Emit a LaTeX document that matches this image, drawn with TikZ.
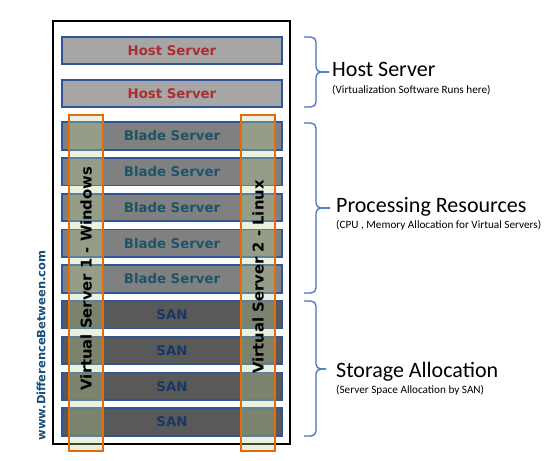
\documentclass[tikz,border=0pt]{standalone}
\usepackage{fontspec}
\setmainfont{Carlito}
\newfontfamily\boxfont{DejaVu Sans}
\usepackage{tikz}
\usetikzlibrary{positioning, calc}
\definecolor{hostfill}{RGB}{166,166,166}
\definecolor{bladefill}{RGB}{128,128,128}
\definecolor{sanfill}{RGB}{89,89,89}
\definecolor{boxedge}{RGB}{47,85,151}
\definecolor{hosttext}{RGB}{175,45,45}
\definecolor{bladetext}{RGB}{28,84,104}
\definecolor{santext}{RGB}{25,55,100}
\definecolor{vmedge}{RGB}{228,108,10}
\definecolor{vmfill}{RGB}{194,214,155}
\definecolor{bracecol}{RGB}{68,114,196}
\definecolor{urltext}{RGB}{25,80,120}

\begin{document}
\begin{tikzpicture}[x=1pt, y=-1pt,
                unit/.style={draw=boxedge, line width=1.8pt, rectangle, minimum width=220pt, minimum height=27.5pt, inner sep=0pt, outer sep=0pt, font=\boxfont\bfseries\fontsize{13.3}{15}\selectfont},
                hostbox/.style={unit, fill=hostfill, text=hosttext},
                bladebox/.style={unit, fill=bladefill, text=bladetext},
                sanbox/.style={unit, fill=sanfill, text=santext},
                vmbox/.style={draw=vmedge, line width=2pt, fill=vmfill, fill opacity=0.33, rectangle, minimum width=34pt, minimum height=336pt, inner sep=0pt},
                vmlabel/.style={rotate=90, inner sep=0pt, font=\boxfont\bfseries\fontsize{14.8}{16}\selectfont},
                bracepath/.style={draw=bracecol, line width=1.3pt, rounded corners=5pt},
                biglabel/.style={anchor=base west, inner sep=0pt, font=\fontsize{22}{25}\selectfont},
                sublabel/.style={anchor=base west, inner sep=0pt, font=\fontsize{11.2}{13}\selectfont}
            ]
            \useasboundingbox (0,0) rectangle (550,461);

            % rack frame
            \draw[black, line width=1.2pt, fill=white] (53,21) rectangle (290,444);

            % units
            \node[hostbox] (host1) at (172,50.5) {Host Server};
            \node[hostbox, below=15.5pt of host1] (host2) {Host Server};
            \node[bladebox, below=15pt of host2] (blade1) {Blade Server};
            \node[bladebox, below=8.25pt of blade1] (blade2) {Blade Server};
            \node[bladebox, below=8.25pt of blade2] (blade3) {Blade Server};
            \node[bladebox, below=8.25pt of blade3] (blade4) {Blade Server};
            \node[bladebox, below=8.25pt of blade4] (blade5) {Blade Server};
            \node[sanbox, below=8.25pt of blade5] (san1) {SAN};
            \node[sanbox, below=8.25pt of san1] (san2) {SAN};
            \node[sanbox, below=8.25pt of san2] (san3) {SAN};
            \node[sanbox, below=8.25pt of san3] (san4) {SAN};

            % virtual servers
            \node[vmbox] (vm1) at (86,283) {};
            \node[vmbox] (vm2) at (258,283) {};
            \node[vmlabel] (vm1lbl) at ([yshift=4.5pt]vm1.center) {Virtual Server 1 - Windows};
            \node[vmlabel] (vm2lbl) at ([yshift=6pt]vm2.center) {Virtual Server 2 - Linux};

            \node[rotate=90, inner sep=0pt, text=urltext, font=\boxfont\bfseries\fontsize{11.5}{13}\selectfont] (url) at (41,345.5) {www.DifferenceBetween.com};

            % braces
            \draw[bracepath] (304,37) -- (316,37) -- (316,72) -- (329,72);
            \draw[bracepath] (329,72) -- (316,72) -- (316,107) -- (304,107);
            \draw[bracepath] (304,123) -- (316,123) -- (316,208) -- (330,208);
            \draw[bracepath] (330,208) -- (316,208) -- (316,293) -- (304,293);
            \draw[bracepath] (304,301) -- (316,301) -- (316,369) -- (326,369);
            \draw[bracepath] (326,369) -- (316,369) -- (316,436) -- (304,436);

            % labels
            \node[biglabel] (hostlbl) at (332,76) {Host Server};
            \node[sublabel] (hostsub) at ([yshift=-17pt]hostlbl.base west) {(Virtualization Software Runs here)};
            \node[biglabel] (proclbl) at (336,212) {Processing Resources};
            \node[sublabel] (procsub) at ([yshift=-16pt]proclbl.base west) {(CPU , Memory Allocation for Virtual Servers)};
            \node[biglabel] (storlbl) at (336,377) {Storage Allocation};
            \node[sublabel] (storsub) at ([yshift=-16pt]storlbl.base west) {(Server Space Allocation by SAN)};

        \end{tikzpicture}
\end{document}
